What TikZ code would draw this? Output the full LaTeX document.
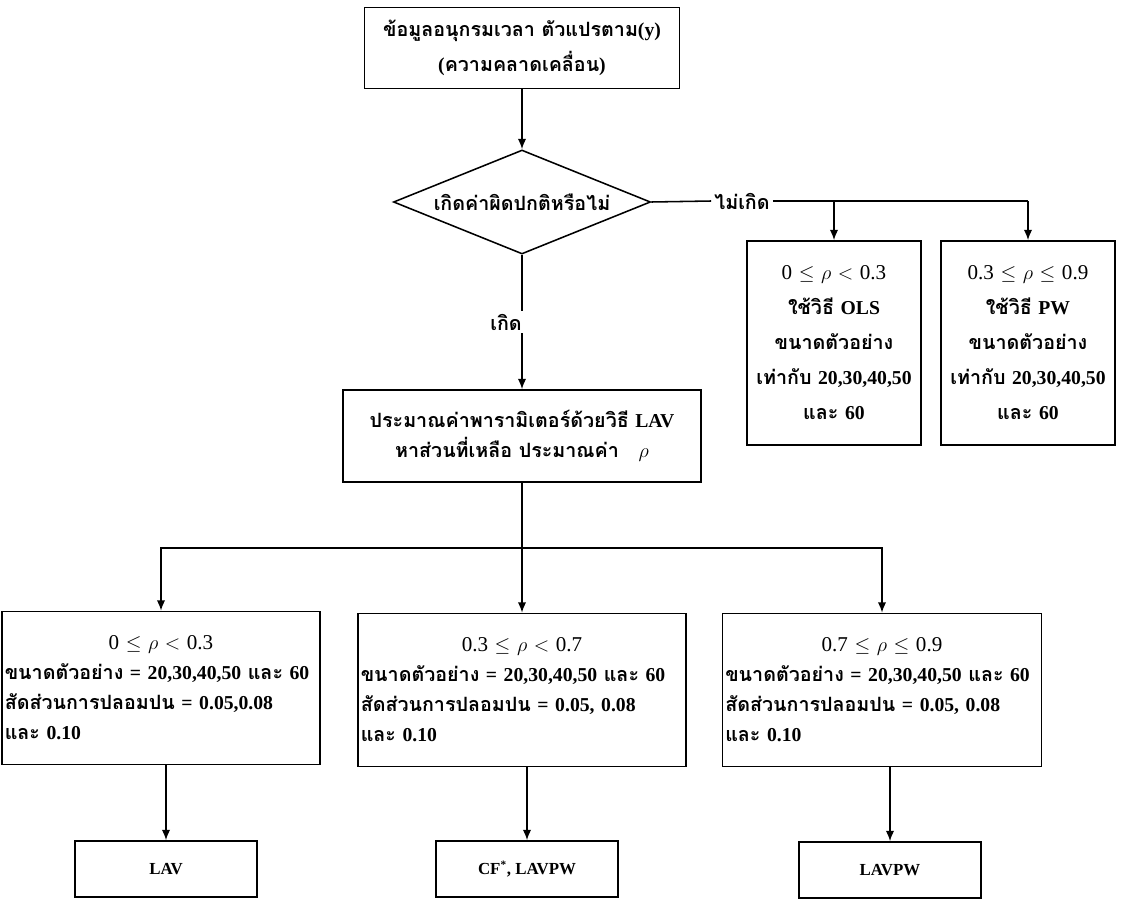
\documentclass[tikz,border=0pt]{standalone}
\usepackage{fontspec}
\setmainfont{Liberation Serif}
\newfontfamily\thaifont[Script=Thai]{Loma}
\usetikzlibrary{arrows.meta,shapes.geometric}
\newcommand{\thaiw}[1]{{\thaifont #1}}
\newcommand{\rhoset}{\fontsize{15}{21}\selectfont\mdseries}

\begin{document}
\begin{tikzpicture}[x=0.025cm,y=-0.025cm,>=Latex,
 box/.style={draw,line width=1.1pt,inner sep=2pt,font=\fontsize{14}{21.3}\selectfont\bfseries},
 dia/.style={draw,diamond,shape aspect=2.5,line width=1.1pt,inner sep=1pt,minimum width=6.425cm,minimum height=2.6cm,font=\fontsize{14}{17}\selectfont\bfseries},
 res/.style={box,minimum width=4.55cm,minimum height=1.4cm,font=\fontsize{12}{14}\selectfont\bfseries},
 lbl/.style={inner sep=2pt,font=\fontsize{14}{17}\selectfont\bfseries},
 a/.style={-{Latex[length=2.6mm,width=2.1mm]},line width=1.1pt},
 ln/.style={line width=1.1pt}]
\useasboundingbox (0,0) rectangle (1126,901);

\node[box,align=center,minimum width=7.875cm,minimum height=2.025cm,font=\fontsize{14}{25}\selectfont\bfseries] (data) at (522,48)
 {\thaiw{ข้อมูลอนุกรมเวลา ตัวแปรตาม}(y)\\(\thaiw{ความคลาดเคลื่อน})};
\node[dia] (dec) at (522,202) {\thaiw{เกิดค่าผิดปกติหรือไม่}};
\node[lbl] (nolbl) at (742,201) {\thaiw{ไม่เกิด}};

\node[box,align=center,text width=4.2cm,minimum height=5.1cm,font=\fontsize{14}{24.9}\selectfont\bfseries] (r1) at (834,343)
 {{\rhoset 0 $\le$ $\rho$ $<$ 0.3}\\\thaiw{ใช้วิธี} OLS\\\thaiw{ขนาดตัวอย่าง}\\\thaiw{เท่ากับ} 20,30,40,50\\\thaiw{และ} 60};
\node[box,align=center,text width=4.2cm,minimum height=5.1cm,font=\fontsize{14}{24.9}\selectfont\bfseries] (r2) at (1028,343)
 {{\rhoset 0.3 $\le$ $\rho$ $\le$ 0.9}\\\thaiw{ใช้วิธี} PW\\\thaiw{ขนาดตัวอย่าง}\\\thaiw{เท่ากับ} 20,30,40,50\\\thaiw{และ} 60};

\node[box,align=center,text width=8.8cm,minimum height=2.3cm] (est) at (522,436)
 {\thaiw{ประมาณค่าพารามิเตอร์ด้วยวิธี} LAV\\\thaiw{หาส่วนที่เหลือ ประมาณค่า}\quad{\rhoset$\rho$}};
\coordinate (sp) at (522,548);

\node[box,align=left,text width=7.81cm,minimum height=3.825cm] (b1) at (161,688)
 {\hfill{\rhoset 0 $\le$ $\rho$ $<$ 0.3}\hfill\null\\\thaiw{ขนาดตัวอย่าง} = 20,30,40,50 \thaiw{และ} 60\\\thaiw{สัดส่วนการปลอมปน} = 0.05,0.08\\\thaiw{และ} 0.10};
\node[box,align=left,text width=8.06cm,minimum height=3.825cm] (b2) at (522,690)
 {\hfill{\rhoset 0.3 $\le$ $\rho$ $<$ 0.7}\hfill\null\\\thaiw{ขนาดตัวอย่าง} = 20,30,40,50 \thaiw{และ} 60\\\thaiw{สัดส่วนการปลอมปน} = 0.05, 0.08\\\thaiw{และ} 0.10};
\node[box,align=left,text width=7.835cm,minimum height=3.825cm] (b3) at (882,690)
 {\hfill{\rhoset 0.7 $\le$ $\rho$ $\le$ 0.9}\hfill\null\\\thaiw{ขนาดตัวอย่าง} = 20,30,40,50 \thaiw{และ} 60\\\thaiw{สัดส่วนการปลอมปน} = 0.05, 0.08\\\thaiw{และ} 0.10};

\node[res] (f1) at (166,869) {LAV};
\node[res] (f2) at (527,869) {CF\textsuperscript{*}, LAVPW};
\node[res] (f3) at (890,870) {LAVPW};

\draw[a] (data.south) -- (dec.north);
\draw[ln] (dec.east) -- (nolbl.west);
\draw[ln] (nolbl.east) -- (nolbl.east -| r2.north);
\draw[a] (nolbl.east -| r1.north) -- (r1.north);
\draw[a] (nolbl.east -| r2.north) -- (r2.north);
\draw[a] (dec.south) -- node[lbl,fill=white,xshift=-0.4cm]{\thaiw{เกิด}} (est.north);
\draw[ln] (est.south) -- (sp);
\draw[a] (sp) -| (b1.north);
\draw[a] (sp) -- (b2.north);
\draw[a] (sp) -| (b3.north);
\draw[a] (f1.north |- b1.south) -- (f1.north);
\draw[a] (f2.north |- b2.south) -- (f2.north);
\draw[a] (f3.north |- b3.south) -- (f3.north);
\end{tikzpicture}
\end{document}
